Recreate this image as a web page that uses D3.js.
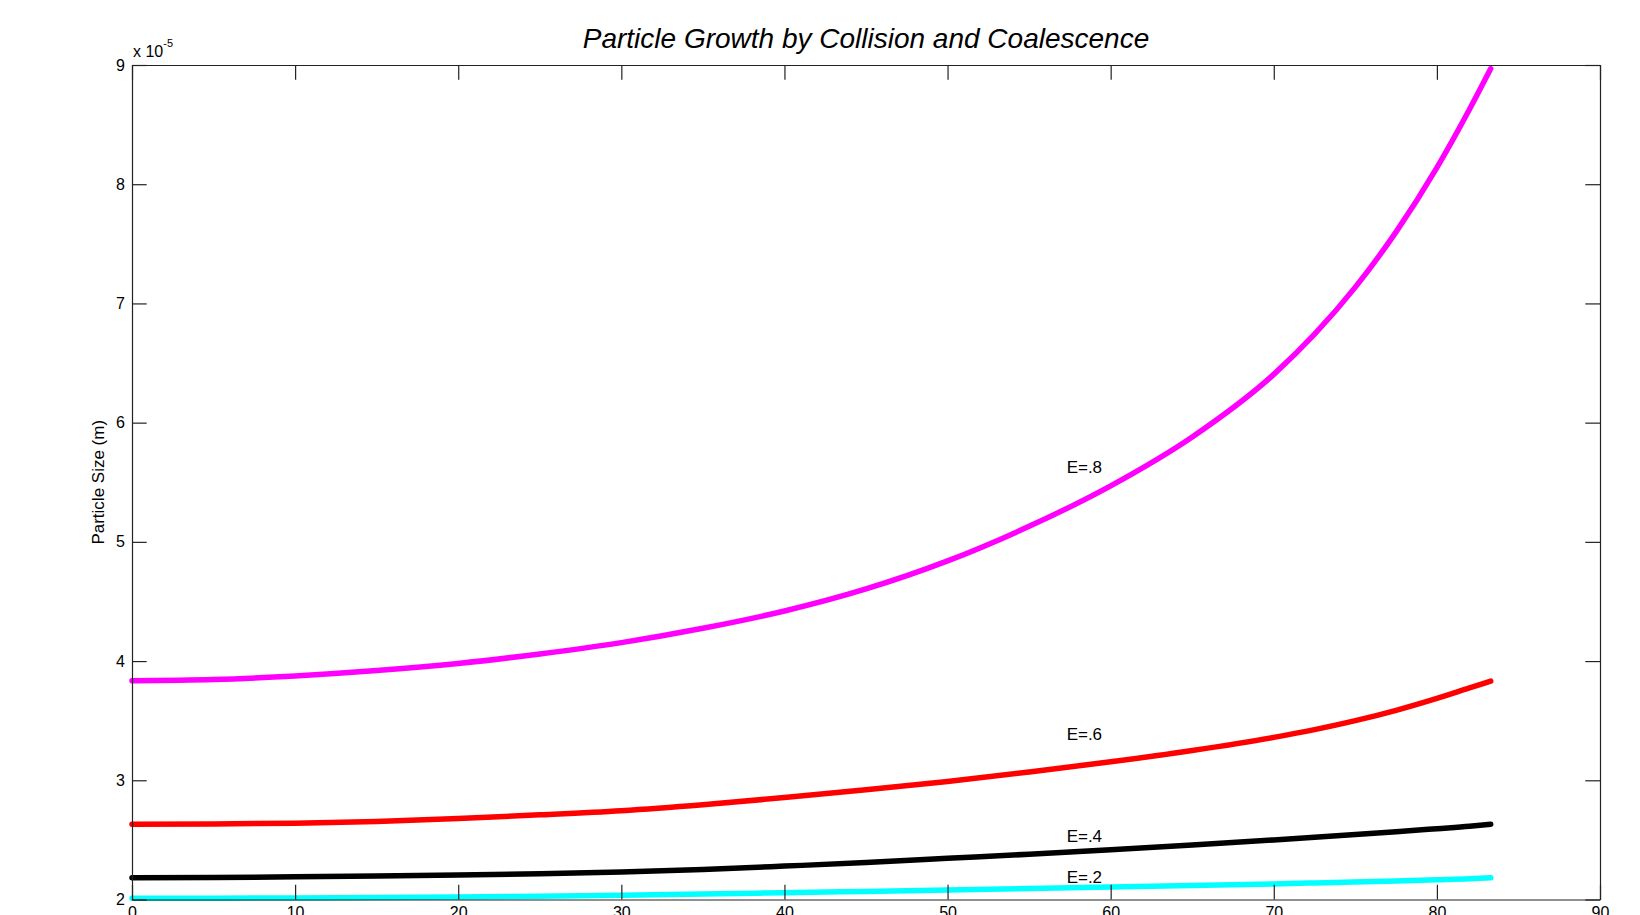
<!DOCTYPE html>
<html>
<head>
<meta charset="utf-8">
<script src="https://cdn.jsdelivr.net/npm/d3@7"></script>
<style>
    body { margin: 0; background: #fff; }
    text { font-family: "Liberation Sans", Arial, sans-serif; }
</style>
</head>
<body>
<div id="plot"></div>
<script>
// time axis shared by every run, sizes in units of 1e-5 m
var timeSteps = [0, 5, 10, 15, 20, 25, 30, 35, 40, 45, 50, 55, 60, 65, 70, 72.5, 75, 77.5, 80, 82, 83.3];
var sizeE2 = [2.010, 2.011, 2.013, 2.017, 2.022, 2.028, 2.036, 2.046, 2.057, 2.068, 2.080, 2.092, 2.104, 2.117, 2.131, 2.139, 2.147, 2.156, 2.166, 2.174, 2.182];
var sizeE4 = [2.183, 2.185, 2.190, 2.197, 2.205, 2.215, 2.230, 2.252, 2.280, 2.310, 2.345, 2.380, 2.418, 2.458, 2.500, 2.522, 2.545, 2.569, 2.594, 2.614, 2.631];
var sizeE6 = [2.631, 2.633, 2.640, 2.655, 2.680, 2.710, 2.745, 2.795, 2.855, 2.920, 2.990, 3.070, 3.155, 3.250, 3.360, 3.425, 3.500, 3.587, 3.687, 3.775, 3.832];
var sizeE8 = [3.835, 3.845, 3.875, 3.920, 3.980, 4.060, 4.155, 4.275, 4.420, 4.605, 4.840, 5.130, 5.470, 5.880, 6.405, 6.742, 7.137, 7.600, 8.139, 8.629, 8.970];

var seriesNames = ["E=.2", "E=.4", "E=.6", "E=.8"];
var seriesColors = ["#00ffff", "#000000", "#ff0000", "#ff00ff"];
var labelX = [57.3, 57.3, 57.3, 57.3];
var labelY = [2.19, 2.53, 3.39, 5.63];

var xTicks = [0, 10, 20, 30, 40, 50, 60, 70, 80, 90];
var yTicks = [2, 3, 4, 5, 6, 7, 8, 9];

function start(){
    plot_1();
}

function plot_1(){
    var margin = {top: 65, right: 40, bottom: 15.5, left: 132};
    var width = 1640 - margin.left - margin.right;
    var height = 915 - margin.top - margin.bottom;
    var tickLen = 14.7;

    var svg = d3.select('#plot').append("svg")
                .attr("width", 1640)
                .attr("height", 915);

    var g = svg.append("g")
               .attr("transform", "translate(" + margin.left + "," + margin.top + ")");

    var x = d3.scaleLinear().domain([0, 90]).range([0, width]);
    var y = d3.scaleLinear().domain([2, 9]).range([height, 0]);

    var all_series = [sizeE2, sizeE4, sizeE6, sizeE8];
    var line = d3.line()
                 .x(function(d, i){ return x(timeSteps[i]); })
                 .y(function(d){ return y(d); })
                 .curve(d3.curveMonotoneX);

    g.selectAll(".curves")
     .data(all_series)
     .enter()
     .append("path")
     .attr("class", "curves")
     .attr("d", function(d){ return line(d); })
     .attr("fill", "none")
     .attr("stroke", function(d, i){ return seriesColors[i]; })
     .attr("stroke-width", 5.5)
     .attr("stroke-linecap", "round")
     .attr("stroke-linejoin", "round");

    g.selectAll(".labels")
     .data(seriesNames)
     .enter()
     .append("text")
     .attr("class", "labels")
     .attr("x", function(d, i){ return x(labelX[i]); })
     .attr("y", function(d, i){ return y(labelY[i]); })
     .attr("dy", "0.35em")
     .style("font-size", "17px")
     .attr("fill", "#000")
     .text(function(d){ return d; });

    // box with ticks pointing inward on all four sides
    var bottom = g.append("g")
        .attr("transform", "translate(0," + height + ")")
        .call(d3.axisBottom(x).tickValues(xTicks).tickSizeInner(-tickLen).tickSizeOuter(0).tickPadding(7.5).tickFormat(d3.format("d")));
    var top = g.append("g")
        .call(d3.axisTop(x).tickValues(xTicks).tickSizeInner(-tickLen).tickSizeOuter(0).tickFormat(""));
    var left = g.append("g")
        .call(d3.axisLeft(y).tickValues(yTicks).tickSizeInner(-tickLen).tickSizeOuter(0).tickPadding(7).tickFormat(d3.format("d")));
    var right = g.append("g")
        .attr("transform", "translate(" + width + ",0)")
        .call(d3.axisRight(y).tickValues(yTicks).tickSizeInner(-tickLen).tickSizeOuter(0).tickFormat(""));

    [bottom, top, left, right].forEach(function(a){
        a.selectAll("path, line").attr("stroke", "#222").attr("stroke-width", 1.2);
        a.selectAll("text").style("font-size", "16px").attr("fill", "#000")
         .style("font-family", '"Liberation Sans", Arial, sans-serif');
    });

    // exponent note over the y axis
    var note = svg.append("text")
        .attr("x", margin.left + 1)
        .attr("y", 57)
        .style("font-size", "16px")
        .attr("fill", "#000");
    note.append("tspan").text("x 10");
    note.append("tspan").attr("dy", -10).style("font-size", "11px").text("-5");

    svg.append("text")
       .attr("transform", "translate(104," + (margin.top + height / 2) + ") rotate(-90)")
       .attr("text-anchor", "middle")
       .style("font-size", "17px")
       .attr("fill", "#000")
       .text("Particle Size  (m)");

    svg.append("text")
       .attr("x", margin.left + width / 2)
       .attr("y", 48)
       .attr("text-anchor", "middle")
       .style("font-size", "28px")
       .style("font-style", "italic")
       .attr("fill", "#000")
       .text("Particle Growth by Collision and Coalescence");
}

start()
</script>
</body>
</html>
